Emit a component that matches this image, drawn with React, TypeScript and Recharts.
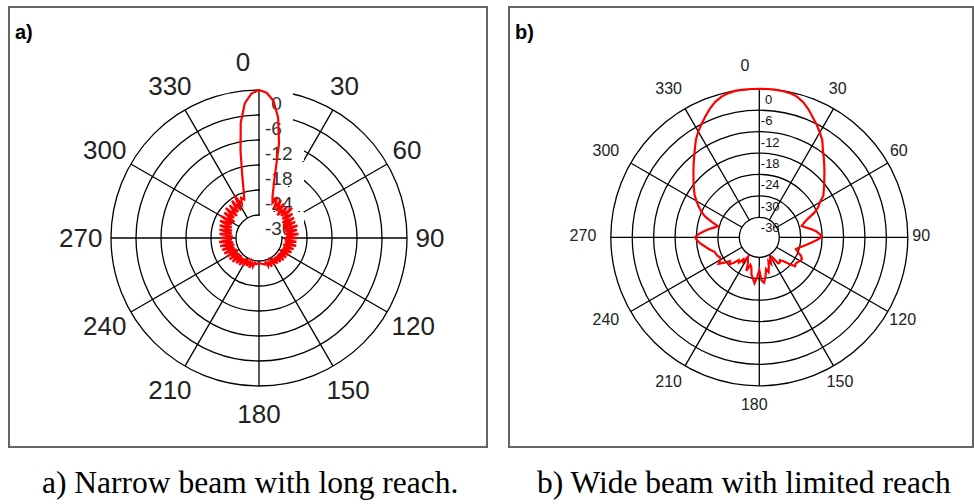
import { RadarChart, Radar, PolarGrid, PolarAngleAxis, PolarRadiusAxis } from 'recharts';

// angle categories, 3 degree step, compass style (0 at top, clockwise)
const ANGLES = Array.from({ length: 120 }, (_, i) => i * 3);
const SPOKES = [0, 30, 60, 90, 120, 150, 180, 210, 240, 270, 300, 330];

// a) narrow beam, dB
const NARROW = [
  0, -0.6, -2.4, -6.2, -12.4, -21.5, -25.0, -26.5, -24.8, -27.5,
  -25.0, -27.8, -25.4, -28.5, -25.5, -28.0, -24.8, -28.3, -25.6, -28.8,
  -25.8, -29.0, -26.0, -29.2, -25.8, -29.0, -26.2, -29.3, -26.0, -29.0,
  -26.2, -29.4, -26.5, -29.2, -26.4, -29.5, -26.8, -29.3, -27.0, -29.5,
  -27.2, -29.4, -27.5, -29.6, -27.6, -29.5, -27.8, -29.6, -28.0, -29.4,
  -28.2, -29.6, -28.0, -29.3, -28.4, -29.5, -29.0, -29.2, -29.3, -29.4,
  -29.3, -29.4, -29.2, -29.5, -28.5, -29.4, -28.0, -29.6, -28.2, -29.5,
  -27.8, -29.6, -27.5, -29.4, -27.4, -29.6, -27.0, -29.5, -26.8, -29.4,
  -26.6, -29.5, -26.4, -29.2, -26.2, -29.4, -26.0, -29.2, -25.9, -29.0,
  -26.2, -29.2, -26.0, -28.9, -25.8, -28.8, -25.6, -28.5, -25.3, -28.2,
  -25.0, -28.5, -25.2, -27.8, -24.8, -28.0, -25.0, -27.5, -24.5, -27.6,
  -23.8, -26.5, -25.0, -25.6, -23.6, -20.0, -14.2, -7.5, -3.0, -0.8,
];

// b) wide beam, dB
const WIDE = [
  0, 0, 0, -0.1, -0.3, -0.8, -1.8, -3.2, -4.8, -6.2,
  -7.7, -9.2, -11.3, -12.9, -14.4, -15.8, -17.1, -18.2, -19.3, -20.2,
  -22.0, -23.1, -24.8, -27.0, -28.4, -29.3, -28.3, -26.9, -25.6, -24.6,
  -24.2, -25.6, -27.0, -28.2, -29.3, -30.2, -30.8, -30.0, -28.8, -28.2,
  -28.4, -28.8, -29.0, -28.7, -30.5, -32.2, -33.0, -32.5, -32.6, -35.0,
  -34.5, -35.0, -33.5, -34.5, -33.0, -31.5, -32.5, -30.5, -28.8, -29.5,
  -32.4, -30.5, -28.7, -30.0, -31.0, -33.0, -33.5, -31.5, -33.8, -34.5,
  -35.3, -33.4, -34.0, -32.5, -33.0, -31.5, -30.3, -31.0, -29.5, -28.0,
  -29.0, -29.3, -28.8, -28.6, -28.4, -27.6, -26.8, -26.0, -25.0, -24.2,
  -23.6, -24.6, -25.9, -27.2, -28.6, -29.6, -27.6, -25.3, -23.8, -22.5,
  -21.3, -20.0, -19.0, -17.9, -16.8, -15.5, -14.1, -12.6, -10.9, -9.0,
  -7.4, -6.0, -4.5, -3.0, -1.7, -0.8, -0.3, 0, 0, 0,
];

const CAPTION_A = 'a) Narrow beam with long reach.';
const CAPTION_B = 'b) Wide beam with limited reach';

const dataA = ANGLES.map((angle, i) => ({ angle, gain: NARROW[i] }));
const dataB = ANGLES.map((angle, i) => ({ angle, gain: WIDE[i] }));

const SANS = '"Liberation Sans", Arial, sans-serif';
const RAD = Math.PI / 180;
const NO_MARGIN = { top: 0, right: 0, bottom: 0, left: 0 };

// MATLAB-ish polar labels around the outer ring
const angleTick = (cx: number, cy: number, rx: number, ry: number, size: number, dx: number, dy: number, zeroShift: number, fill: string) =>
  (props: any) => {
    const v = Number(props.payload?.value);
    if (v % 30 !== 0) return <g />;
    const w = String(v).length * 0.556 * size;
    const x = cx + (rx + w / 2) * Math.sin(v * RAD) + dx + (v === 0 ? zeroShift : 0);
    const y = cy - ry * Math.cos(v * RAD) + dy;
    return (
      <text x={x} y={y} textAnchor="middle" dominantBaseline="central" fontSize={size} fontFamily={SANS} fill={fill}>
        {v}
      </text>
    );
  };

// white box behind each label blanks the rings, like the original export
const radiusTickA = (props: any) => {
  const v = Number(props.payload?.value);
  const { x, y } = props;
  return (
    <g>
      <rect x={x + 1} y={y - 3} width={v >= -6 ? 33 : 44} height={24} fill="#fff" />
      <text x={x + 6 + (v === 0 ? 6.3 : 0)} y={y + 13} dominantBaseline="central" fontSize={19} fontFamily={SANS} fill="#333">
        {v}
      </text>
    </g>
  );
};

const radiusTickB = (props: any) => {
  const v = Number(props.payload?.value);
  const { x, y } = props;
  return (
    <text x={x + 1.5 + (v === 0 ? 4.3 : 0)} y={y + 10.5} dominantBaseline="central" fontSize={13} fontFamily={SANS} fill="#111">
      {v}
    </text>
  );
};

const boxStyle = (left: number, width: number): React.CSSProperties => ({
  position: 'absolute',
  left,
  top: 6,
  width,
  height: 442,
  border: '2px solid #666',
  boxSizing: 'border-box',
});

const tagStyle = (left: number): React.CSSProperties => ({
  position: 'absolute',
  left,
  top: 22,
  fontFamily: SANS,
  fontWeight: 'bold',
  fontSize: 20,
  lineHeight: '20px',
  color: '#000',
});

const captionStyle = (left: number): React.CSSProperties => ({
  position: 'absolute',
  left,
  top: 466.5,
  fontFamily: '"Liberation Serif", "Times New Roman", serif',
  fontSize: 31.5,
  lineHeight: '31.5px',
  whiteSpace: 'nowrap',
  color: '#000',
});

export default function App() {
  // zIndex keeps the label boxes under the trace
  const RadiusAxis: any = PolarRadiusAxis;
  const Trace: any = Radar;
  return (
    <div style={{ position: 'absolute', left: 0, top: 0, width: 974, height: 504, background: '#fff', overflow: 'hidden' }}>
      <div style={boxStyle(8, 480)} />
      <div style={boxStyle(508, 466)} />

      <div style={{ position: 'absolute', left: 8, top: 6 }}>
        <RadarChart width={480} height={442} data={dataA} cx={251} cy={232} outerRadius={148} innerRadius={23}
          startAngle={90} endAngle={-270} margin={NO_MARGIN}>
          <PolarGrid gridType="circle" polarAngles={SPOKES.map((a) => 90 - a)} stroke="#000" strokeWidth={1.3} />
          <PolarAngleAxis dataKey="angle" tickLine={false} axisLine={false}
            tick={angleTick(251, 232, 156.5, 176, 26, 0, 0, -16, '#222')} />
          <RadiusAxis angle={90} domain={[-30, 0]} tickCount={6} axisLine={false} tick={radiusTickA} zIndex={50} />
          <Trace dataKey="gain" stroke="#ff0000" strokeWidth={2.2} fill="none" fillOpacity={0} dot={false}
            isAnimationActive={false} zIndex={700} />
        </RadarChart>
      </div>

      <div style={{ position: 'absolute', left: 508, top: 6 }}>
        <RadarChart width={466} height={442} data={dataB} cx={251.3} cy={231.3} outerRadius={148.5} innerRadius={20}
          startAngle={90} endAngle={-270} margin={NO_MARGIN}>
          <PolarGrid gridType="circle" polarAngles={SPOKES.map((a) => 90 - a)} stroke="#000" strokeWidth={1.3} />
          <PolarAngleAxis dataKey="angle" tickLine={false} axisLine={false}
            tick={angleTick(251.3, 231.3, 158, 169.5, 16, -5, -2.3, -9.3, '#222')} />
          <RadiusAxis angle={90} domain={[-36, 0]} tickCount={7} axisLine={false} tick={radiusTickB} zIndex={50} />
          <Trace dataKey="gain" stroke="#ff0000" strokeWidth={2.2} fill="none" fillOpacity={0} dot={false}
            isAnimationActive={false} zIndex={700} />
        </RadarChart>
      </div>

      <div style={tagStyle(15)}>a)</div>
      <div style={tagStyle(515)}>b)</div>

      <div style={captionStyle(42)}>{CAPTION_A}</div>
      <div style={captionStyle(537)}>{CAPTION_B}</div>
    </div>
  );
}
